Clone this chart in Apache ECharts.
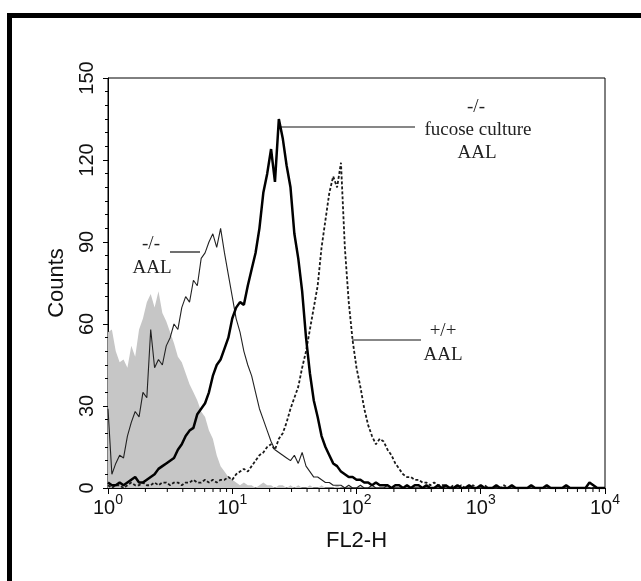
<!DOCTYPE html>
<html><head><meta charset="utf-8">
<script src="https://cdn.jsdelivr.net/npm/echarts@6/dist/echarts.min.js"></script>
<style>html,body{margin:0;padding:0;background:#fff}#c{width:641px;height:581px}</style>
</head><body><div id="c"></div>
<script>
// FACS channels (1024 channels over 4 decades), sampled every 8 channels
const channels = [0,8,16,24,32,40,48,56,64,72,80,88,96,104,112,120,128,136,144,152,160,168,176,184,192,200,208,216,224,232,240,248,256,264,272,280,288,296,304,312,320,328,336,344,352,360,368,376,384,392,400,408,416,424,432,440,448,456,464,472,480,488,496,504,512,520,528,536,544,552,560,568,576,584,592,600,608,616,624,632,640,648,656,664,672,680,688,696,704,712,720,728,736,744,752,760,768,776,784,792,800,808,816,824,832,840,848,856,864,872,880,888,896,904,912,920,928,936,944,952,960,968,976,984,992,1000,1008,1016,1024];

const controlCounts = [57,58,50,46,47,44,52,48,58,62,68,71,66,72,64,61,
57,53,48,46,42,38,35,32,28,26,21,18,12,8,6,4,
3,2,1,2,1,1,0,1,2,1,1,0,1,1,0,1,
0,1,0,0,1,0,0,1,0,0,0,1,0,0,0,0,
0,0,0,0,0,0,0,0,0,0,0,0,0,0,0,0,
0,0,0,0,0,0,0,0,0,0,0,0,0,0,0,0,
0,0,0,0,0,0,0,0,0,0,0,0,0,0,0,0,
0,0,0,0,0,0,0,0,0,0,0,0,0,0,0,0,
0];

const koAALCounts = [29,5,9,12,11,19,24,28,26,35,33,58,44,47,45,52,
55,60,58,66,70,68,76,74,84,86,90,93,88,95,86,78,
70,62,57,50,45,41,35,29,25,21,17,14,13,12,11,10,
12,9,13,8,6,4,4,3,2,2,1,1,1,0,1,0,
0,1,0,0,1,0,0,0,1,0,0,0,0,1,0,0,
0,0,0,0,0,0,0,0,0,0,0,0,0,0,0,0,
0,0,0,0,0,0,0,0,0,0,0,0,0,0,0,0,
0,0,0,0,0,0,0,0,0,0,0,0,0,0,0,0,
0];

const fucoseCounts = [2,1,1,2,1,2,3,4,2,2,3,4,5,7,8,9,
10,11,14,16,19,21,22,27,29,31,35,41,45,47,51,55,
62,66,68,67,74,80,86,95,108,115,124,112,135,128,118,110,
93,84,72,55,42,32,26,19,15,12,9,8,6,5,4,4,
3,3,2,2,1,2,1,1,1,0,1,1,0,1,0,1,
1,0,1,0,0,1,0,1,0,0,1,0,0,1,0,0,
1,0,0,0,1,0,0,0,1,0,0,0,0,1,0,0,
0,1,0,0,0,0,1,0,0,0,0,0,2,1,0,0,
0];

const wtAALCounts = [1,0,1,1,0,1,2,1,1,2,1,1,2,1,2,2,
1,2,2,1,2,2,3,2,2,3,2,3,2,3,3,4,
3,5,6,7,6,8,10,12,13,15,16,14,18,20,24,29,
33,37,44,50,58,66,74,88,98,108,114,110,119,88,68,54,
44,37,29,23,19,16,18,17,14,12,9,7,5,4,4,3,
3,2,2,1,2,1,1,1,0,1,0,1,0,0,1,0,
0,1,0,0,0,0,1,0,0,0,0,0,0,0,0,0,
0,0,0,0,0,0,0,0,0,0,0,0,0,0,0,0,
0];

const xMinorTicks = [2,3,4,5,6,7,8,9,20,30,40,50,60,70,80,90,200,300,400,500,600,700,800,900,2000,3000,4000,5000,6000,7000,8000,9000];
const yTicks = {min:0, max:150, step:30};

const toX = ch => Math.pow(10, ch / 256);
const pairs = counts => channels.map((ch, i) => [toX(ch), counts[i]]);

const chart = echarts.init(document.getElementById('c'), null, {renderer:'canvas'});
const sans = '"Liberation Sans", Arial, sans-serif';
const serif = '"Liberation Serif", "Times New Roman", serif';

chart.setOption({
  animation: false,
  backgroundColor: '#fff',
  grid: {left:108, right:36, top:78, bottom:93, show:true, borderColor:'#000', borderWidth:1, backgroundColor:'transparent'},
  xAxis: {
    type:'log', logBase:10, min:1, max:10000,
    axisLine:{show:true, lineStyle:{color:'#000', width:1}},
    axisTick:{show:true, length:6, lineStyle:{color:'#000'}},
    splitLine:{show:false},
    axisLabel:{
      margin:5, color:'#111',
      formatter: v => '{b|10}{s|' + Math.round(Math.log10(v)) + '}',
      rich:{
        b:{fontSize:20, fontFamily:sans, color:'#111', padding:[5,0,0,0], verticalAlign:'bottom'},
        s:{fontSize:14, fontFamily:sans, color:'#111', verticalAlign:'top'}
      }
    },
    name:'FL2-H', nameLocation:'middle', nameGap:42,
    nameTextStyle:{fontSize:22, fontFamily:sans, color:'#111'}
  },
  yAxis: {
    type:'value', min:yTicks.min, max:yTicks.max, interval:yTicks.step,
    axisLine:{show:true, lineStyle:{color:'#000', width:1}},
    axisTick:{show:true, length:5, lineStyle:{color:'#000'}},
    minorTick:{show:true, splitNumber:6, length:3, lineStyle:{color:'#000'}},
    splitLine:{show:false},
    axisLabel:{rotate:90, margin:11, fontSize:20, fontFamily:sans, color:'#111'},
    name:'Counts', nameLocation:'middle', nameRotate:90, nameGap:40,
    nameTextStyle:{fontSize:22, fontFamily:sans, color:'#111'}
  },
  series: [
    {name:'control', type:'line', data:pairs(controlCounts), showSymbol:false, z:1,
     lineStyle:{width:0, color:'#c6c6c6'}, itemStyle:{color:'#c6c6c6'},
     areaStyle:{color:'#c6c6c6', opacity:1}},
    {name:'-/- AAL', type:'line', data:pairs(koAALCounts), showSymbol:false, z:3,
     lineStyle:{width:1.1, color:'#222'}, itemStyle:{color:'#222'}},
    {name:'+/+ AAL', type:'line', data:pairs(wtAALCounts), showSymbol:false, z:4,
     lineStyle:{width:1.8, color:'#1a1a1a', type:[3,2]}, itemStyle:{color:'#1a1a1a'}},
    {name:'-/- fucose culture AAL', type:'line', data:pairs(fucoseCounts), showSymbol:false, z:5,
     lineStyle:{width:2.5, color:'#000'}, itemStyle:{color:'#000'}},
    {name:'minorTicks', type:'custom', silent:true, clip:false, z:6,
     data: xMinorTicks.map(v => [v, 0]),
     renderItem: (params, api) => {
       const p = api.coord([api.value(0), 0]);
       return {type:'line', shape:{x1:p[0], y1:p[1], x2:p[0], y2:p[1] + 4}, style:{stroke:'#000', lineWidth:1}};
     }}
  ],
  graphic: [
    {type:'rect', shape:{x:7, y:13, width:634, height:5}, style:{fill:'#000'}, silent:true},
    {type:'rect', shape:{x:7, y:13, width:5, height:568}, style:{fill:'#000'}, silent:true},
    {type:'line', shape:{x1:170, y1:252, x2:200, y2:252}, style:{stroke:'#111', lineWidth:1.2}},
    {type:'line', shape:{x1:278, y1:127, x2:415, y2:127}, style:{stroke:'#111', lineWidth:1.2}},
    {type:'line', shape:{x1:352, y1:340, x2:421, y2:340}, style:{stroke:'#111', lineWidth:1.2}},
    {type:'text', x:151, y:244, style:{text:'-/-', font:'19px ' + serif, fill:'#222', align:'center', verticalAlign:'middle'}},
    {type:'text', x:152, y:268, style:{text:'AAL', font:'19px ' + serif, fill:'#222', align:'center', verticalAlign:'middle'}},
    {type:'text', x:476, y:107, style:{text:'-/-', font:'19px ' + serif, fill:'#222', align:'center', verticalAlign:'middle'}},
    {type:'text', x:478, y:130, style:{text:'fucose culture', font:'19px ' + serif, fill:'#222', align:'center', verticalAlign:'middle'}},
    {type:'text', x:477, y:153, style:{text:'AAL', font:'19px ' + serif, fill:'#222', align:'center', verticalAlign:'middle'}},
    {type:'text', x:443, y:331, style:{text:'+/+', font:'19px ' + serif, fill:'#222', align:'center', verticalAlign:'middle'}},
    {type:'text', x:443, y:355, style:{text:'AAL', font:'19px ' + serif, fill:'#222', align:'center', verticalAlign:'middle'}}
  ]
});
</script>
</body></html>
